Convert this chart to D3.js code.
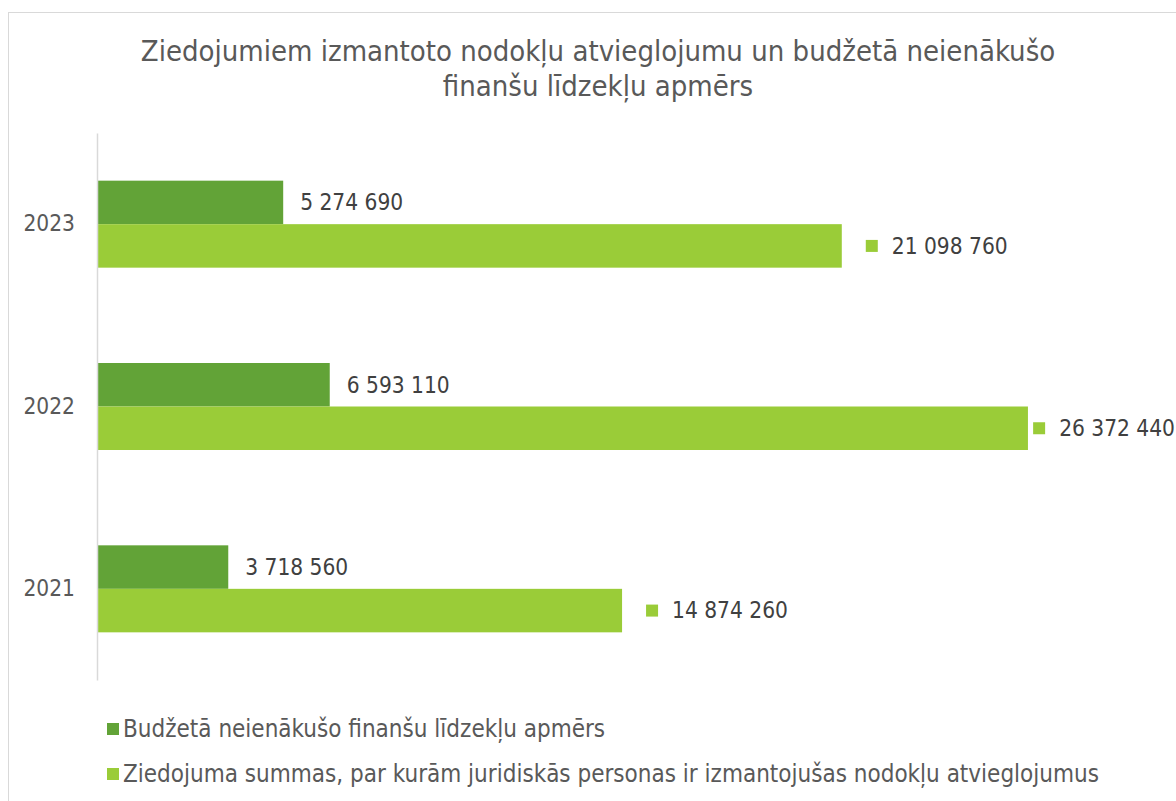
<!DOCTYPE html>
<html><head><meta charset="utf-8">
<script src="https://cdn.jsdelivr.net/npm/d3@7"></script>
<style>body{margin:0;background:#fff}svg{display:block}</style>
</head><body>
<script>
const years = ["2023", "2022", "2021"];
const budgetLoss = [5274690, 6593110, 3718560];
const donations = [21098760, 26372440, 14874260];
const seriesNames = ["Budžetā neienākušo finanšu līdzekļu apmērs",
  "Ziedojuma summas, par kurām juridiskās personas ir izmantojušas nodokļu atvieglojumus"];
const titleLines = ["Ziedojumiem izmantoto nodokļu atvieglojumu un budžetā neienākušo", "finanšu līdzekļu apmērs"];
const colors = ["#62A337", "#9ACC38"];
const fmt = v => d3.format(",")(v).replace(/,/g, " ");
const FONT = "'DejaVu Sans Condensed', 'DejaVu Sans', sans-serif";

const W = 1176, H = 801;
const svg = d3.select("body").append("svg").attr("width", W).attr("height", H);
svg.append("rect").attr("x", 8.5).attr("y", 12.5).attr("width", 1300).attr("height", 1000)
  .attr("fill", "#fff").attr("stroke", "#d9d9d9");

svg.append("text").attr("text-anchor", "middle")
  .attr("fill", "#595959").style("font-family", FONT).style("font-size", "29px")
  .selectAll("tspan").data(titleLines).join("tspan")
  .attr("x", 598).attr("y", (d, i) => 61 + i * 35).text(d => d);

const x = d3.scaleLinear().domain([0, 30000000]).range([97, 1156]);
const y = d3.scaleBand().domain(years).range([133, 680]);
const groupH = 87;

const g = svg.append("g");
years.forEach((yr, i) => {
  const c = y(yr) + y.bandwidth() / 2;
  const vals = [budgetLoss[i], donations[i]];
  vals.forEach((v, k) => {
    const top = c - groupH / 2 + k * groupH / 2;
    g.append("rect").attr("x", x(0)).attr("y", top).attr("width", x(v) - x(0)).attr("height", groupH / 2)
      .attr("fill", colors[k]);
    const cy = top + groupH / 4;
    if (k === 0) {
      g.append("text").attr("x", x(v) + 17).attr("y", cy).attr("dy", "0.35em")
        .attr("fill", "#404040").style("font-family", FONT).style("font-size", "22.5px").text(fmt(v));
    } else {
      const t = g.append("text").attr("y", cy).attr("dy", "0.35em")
        .attr("fill", "#404040").style("font-family", FONT).style("font-size", "22.5px").text(fmt(v));
      const tw = t.node().getComputedTextLength();
      const tx = Math.min(x(v) + 50, W - 1 - tw);
      t.attr("x", tx);
      g.append("rect").attr("x", tx - 26).attr("y", cy - 6).attr("width", 12).attr("height", 12).attr("fill", colors[k]);
    }
  });
});

const axis = svg.append("g").attr("transform", `translate(${x(0)},0)`)
  .call(d3.axisLeft(y).tickSize(0).tickPadding(22));
axis.select(".domain").attr("stroke", "#d9d9d9").attr("stroke-width", 1.5);
axis.selectAll("text").attr("fill", "#595959").style("font-family", FONT).style("font-size", "22.5px");

const leg = svg.append("g");
seriesNames.forEach((n, i) => {
  const ly = 729 + i * 45;
  leg.append("rect").attr("x", 107).attr("y", ly - 6).attr("width", 12).attr("height", 12).attr("fill", colors[i]);
  leg.append("text").attr("x", 123).attr("y", ly).attr("dy", "0.35em").attr("fill", "#595959")
    .style("font-family", FONT).style("font-size", "24px").text(n);
});
</script>
</body></html>
